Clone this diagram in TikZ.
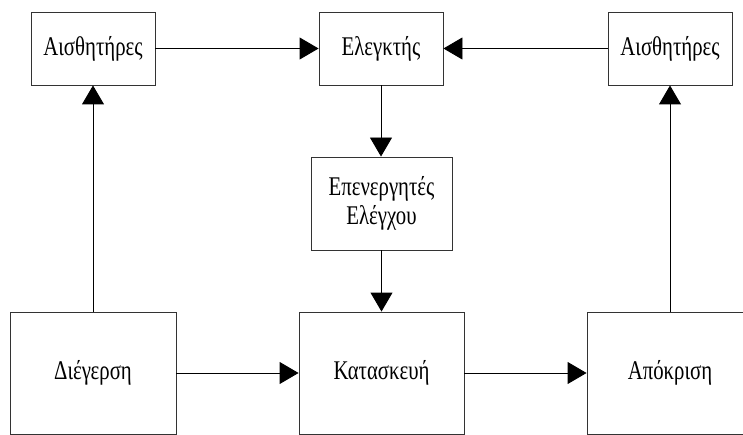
\documentclass[tikz,border=0pt]{standalone}
\usepackage{fontspec}
\setmainfont{Liberation Serif}
\newfontfamily\tallfont[FakeStretch=0.77]{Liberation Serif}
\usetikzlibrary{arrows.meta}
\begin{document}
\begin{tikzpicture}[x=1pt,y=-1pt,
  box/.style={draw=black!80,line width=0.9pt,fill=white,inner sep=0pt,align=center,
    font=\tallfont\fontsize{27}{31}\selectfont},
  conn/.style={line width=0.9pt,-{Triangle[length=19pt,width=22pt]}}]
\clip (0,0) rectangle (743,435);
\fill[white] (0,0) rectangle (743,435);
\node[box,minimum width=124pt,minimum height=73pt] (sL) at (93,48.5) {\raisebox{4pt}{Αισθητήρες}};
\node[box,minimum width=124pt,minimum height=73pt] (ctrl) at (381,48.5) {\raisebox{4pt}{Ελεγκτής}};
\node[box,minimum width=124pt,minimum height=73pt] (sR) at (670,48.5) {\raisebox{4pt}{Αισθητήρες}};
\node[box,minimum width=141pt,minimum height=93pt] (act) at (381.5,203.5) {\raisebox{2pt}{\begin{tabular}{@{}c@{}}Επενεργητές\\[-2pt]Ελέγχου\end{tabular}}};
\node[box,minimum width=166pt,minimum height=122pt] (dieg) at (93,373) {Διέγερση};
\node[box,minimum width=165pt,minimum height=122pt] (kat) at (381.5,373) {\raisebox{3pt}{Κατασκευή}};
\node[box,minimum width=166pt,minimum height=122pt] (apo) at (670,373) {Απόκριση};
\draw[conn] (sL.east) -- (ctrl.west);
\draw[conn] (sR.west) -- (ctrl.east);
\draw[conn] (ctrl.south) -- (ctrl.south |- act.north);
\draw[conn] (act.south) -- (act.south |- kat.north);
\draw[conn] (dieg.north) -- (sL.south);
\draw[conn] (apo.north) -- (sR.south);
\draw[conn] (dieg.east) -- (kat.west);
\draw[conn] (kat.east) -- (apo.west);
\end{tikzpicture}
\end{document}
